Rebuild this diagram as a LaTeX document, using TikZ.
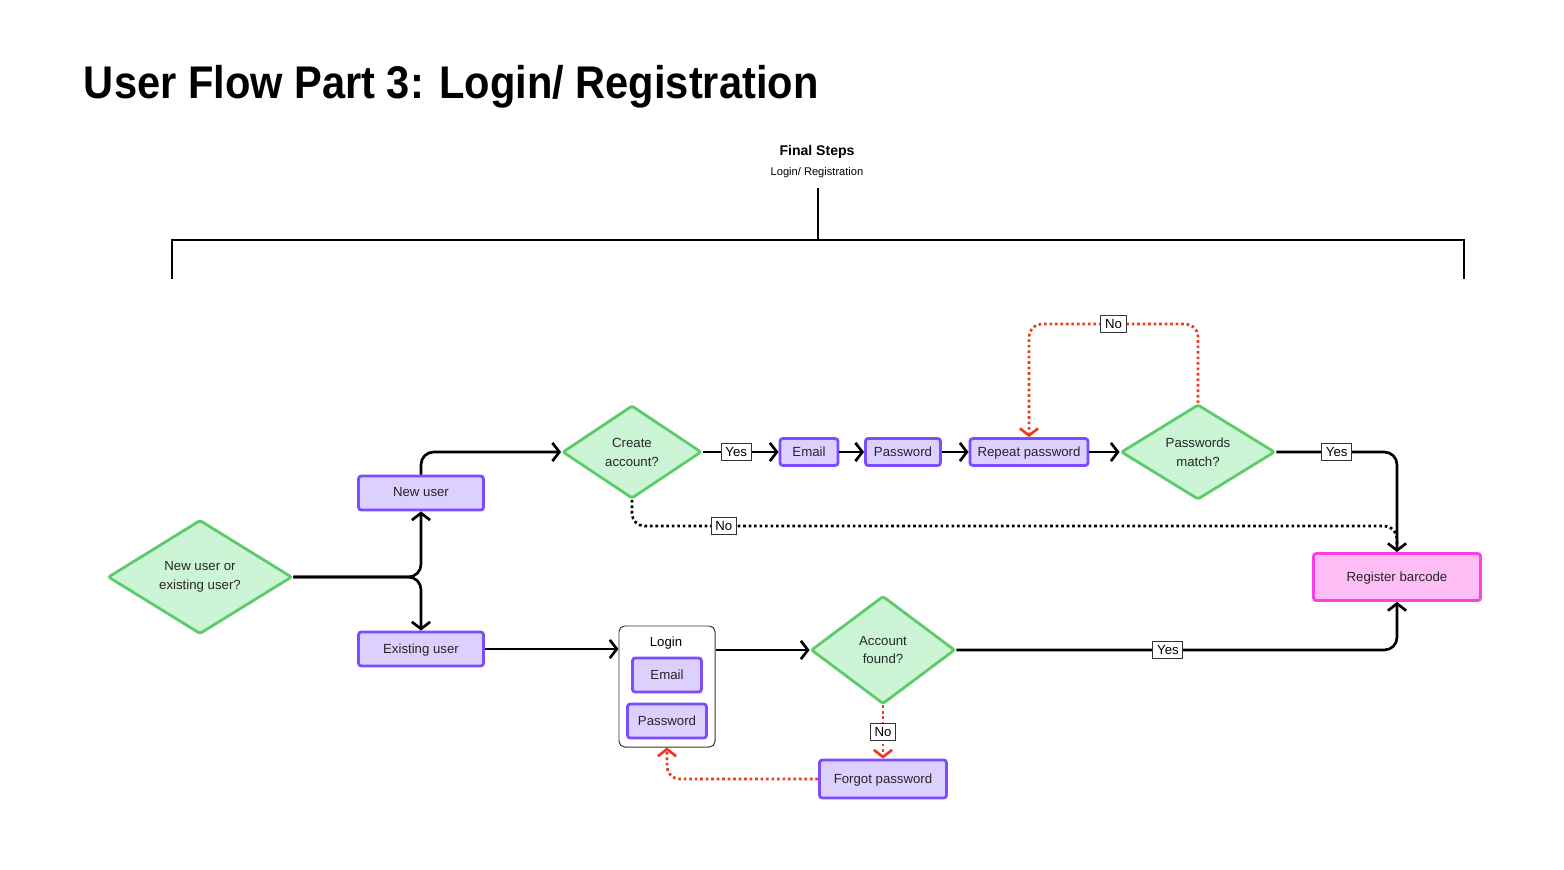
\documentclass[tikz,border=0pt]{standalone}
\usepackage{fontspec}
\setmainfont{Liberation Sans}
\usetikzlibrary{arrows.meta, positioning, shapes.geometric}
\definecolor{boxfill}{HTML}{DCD0FF}
\definecolor{boxline}{HTML}{7C4DFF}
\definecolor{askfill}{HTML}{CCF5D5}
\definecolor{askline}{HTML}{5DCB6A}
\definecolor{goalfill}{HTML}{FFBDF5}
\definecolor{goalline}{HTML}{FF3FE5}
\definecolor{nored}{HTML}{EE3B1F}
\tikzset{
  txt/.style={font=\fontsize{9.4}{13.5}\selectfont, text=black!85},
  stepbox/.style={txt, draw=boxline, fill=boxfill, line width=2pt, rounded corners=2pt, inner sep=0pt, text depth=0.2ex},
  ask/.style={txt, diamond, draw=askline, fill=askfill, line width=2pt, rounded corners=1.5pt, inner sep=0pt, align=center},
  goal/.style={txt, draw=goalline, fill=goalfill, line width=2pt, rounded corners=2pt, inner sep=0pt, text depth=0.2ex},
  group/.style={draw=black!80, fill=white, line width=0.7pt, rounded corners=4pt, inner sep=0pt},
  lbl/.style={txt, solid, draw=black!80, fill=white, line width=0.7pt, rounded corners=0pt, inner xsep=3pt, inner ysep=2.5pt, text=black},
  flow/.style={line width=1.9pt, rounded corners=9pt, -{Straight Barb[length=5pt,width=13pt]}},
  noflow/.style={flow, dotted, draw=nored, -{Straight Barb[length=5pt,width=13pt]}},
  skipflow/.style={line width=1.9pt, rounded corners=9pt, dotted},
}

\begin{document}
\begin{tikzpicture}[x=0.025cm, y=-0.025cm]
  \useasboundingbox (0,0) rectangle (1564,869);

  % Title
  \node[anchor=west, font=\fontsize{29.6}{34}\selectfont\bfseries] (title) at (79,87) {\scalebox{1}[1.1]{User Flow Part 3: Login/ Registration}};

  % Final steps bracket
  \node[font=\fontsize{10}{12}\selectfont\bfseries] (steps) at (817,152) {Final Steps};
  \node[font=\fontsize{7.9}{9}\selectfont, below=-1pt of steps] (stepsub) {Login/ Registration};
  \coordinate (brtop) at (818,188);
  \coordinate (brmid) at (818,240);
  \draw[line width=1.9pt] (brtop) -- (brmid);
  \draw[line width=1.9pt] (172,279) -- (172,240) -- (1464,240) -- (1464,279);

  % Decision nodes
  \node[ask, minimum width=4.6cm, minimum height=2.85cm] (q1) at (200,577) {New user or\\existing user?};
  \node[ask, minimum width=3.475cm, minimum height=2.325cm] (ca) at (632,452) {Create\\account?};
  \node[ask, minimum width=3.85cm, minimum height=2.375cm] (pm) at (1198,452) {Passwords\\match?};
  \node[ask, minimum width=3.6cm, minimum height=2.7cm] (af) at (883,650) {Account\\found?};

  % Steps
  \node[stepbox, minimum width=3.125cm, minimum height=0.85cm] (nu) at (421,493) {New user};
  \node[stepbox, minimum width=3.125cm, minimum height=0.85cm] (eu) at (421,649) {Existing user};
  \node[stepbox, minimum width=1.45cm, minimum height=0.675cm] (email) at (809,452) {Email};
  \node[stepbox, minimum width=1.875cm, minimum height=0.675cm] (pw) at (903,452) {Password};
  \node[stepbox, minimum width=2.95cm, minimum height=0.675cm] (rp) at (1029,452) {Repeat password};
  \node[goal, minimum width=4.175cm, minimum height=1.175cm] (rb) at (1397,577) {Register barcode};

  % Login group
  \node[group, minimum width=2.4cm, minimum height=3.025cm] (login) at (667,686.5) {};
  \node[txt, text=black] (logintxt) at (666,643) {Login};
  \node[stepbox, minimum width=1.725cm, minimum height=0.85cm] (lemail) at (667,675) {Email};
  \node[stepbox, minimum width=1.975cm, minimum height=0.85cm] (lpw) at (667,721) {Password};
  \node[stepbox, minimum width=3.175cm, minimum height=0.95cm] (fp) at (883,779) {Forgot password};

  % Connectors
  \draw[flow] (q1.east) -| (nu.south);
  \draw[flow] (q1.east) -| (eu.north);
  \draw[flow] (nu.north) |- (ca.west);
  \draw[flow] (ca.east) -- node[lbl, pos=0.44] (caYes) {Yes} (email.west);
  \draw[flow] (email) -- (pw);
  \draw[flow] (pw) -- (rp);
  \draw[flow] (rp) -- (pm.west);
  \draw[flow] (pm.east) -| node[lbl, pos=0.25] (pmYes) {Yes} (rb.north);

  \coordinate (looptop) at (1029,324);
  \draw[noflow] (pm.north) |- node[lbl, pos=0.75] (pmNo) {No} (looptop) -- (rp.north);

  \coordinate (skipjoin) at (1397,526);
  \draw[skipflow] (ca.south) |- node[lbl, pos=0.56] (caNo) {No} (skipjoin) -- (rb.north);

  \draw[flow] (eu.east) -- (eu.east -| login.west);
  \draw[flow] (login.east |- af.west) -- (af.west);
  \draw[flow] (af.east) -| node[lbl, pos=0.24] (afYes) {Yes} (rb.south);
  \draw[noflow] (af.south) -- node[lbl] (afNo) {No} (fp.north);
  \draw[noflow] (fp.west) -| (login.south);
\end{tikzpicture}
\end{document}
